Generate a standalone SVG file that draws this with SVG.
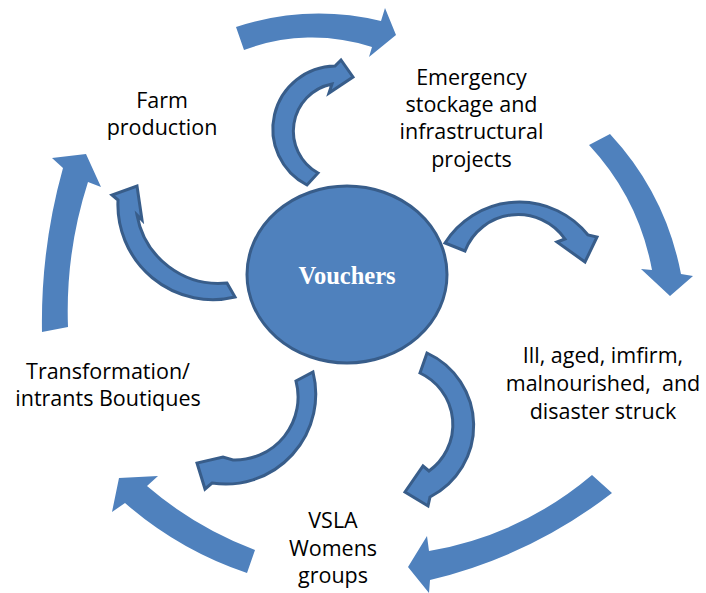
<svg xmlns="http://www.w3.org/2000/svg" width="706" height="593" viewBox="0 0 706 593">
  <style>
    .outer { fill: #4F81BD; stroke: none; }
    .inner { fill: #4F81BD; stroke: #385D8A; stroke-width: 3; stroke-linejoin: miter; }
    .hub { fill: #4F81BD; stroke: #385D8A; stroke-width: 3; }
    .lbl { font-family: "Open Sans", "Liberation Sans", sans-serif; font-size: 21.5px; fill: #000; text-anchor: middle; white-space: pre; }
    .hubtxt { font-family: "Liberation Serif", "Times New Roman", serif; font-size: 24.5px; font-weight: bold; fill: #fff; text-anchor: middle; }
  </style>

  <!-- outer cycle of curved block arrows -->
  <g id="connectors">
    <path class="outer" d="M 236,27 A 268 268 0 0 1 381,21 L 385,8 L 396,35 L 369,57 L 372,47 A 192 192 0 0 0 244,50 Z"/>
    <path class="outer" d="M 589,145 A 250 250 0 0 1 652,270 L 641,269 L 670,296 L 693,276 L 681,274 A 285 285 0 0 0 610,134 Z"/>
    <path class="outer" d="M 592,475 A 343 343 0 0 1 429,551 L 427,536 L 408,567 L 429,593 L 430,580 A 480 480 0 0 0 612,493 Z"/>
    <path class="outer" d="M 255,550 A 360 360 0 0 1 147,486 L 158,476 L 119,478 L 112,512 L 125,503 A 360 360 0 0 0 247,573 Z"/>
    <path class="outer" d="M 42,332 A 572 572 0 0 1 63,168 L 52,158 L 86,154 L 101,187 L 88,182 A 422 422 0 0 0 68,327 Z"/>

    <!-- arrows leaving the hub -->
    <path class="inner" d="M 307,185 A 63 63 0 0 1 335,66 L 341,60 L 353,77 L 329,93 L 332,84 A 48 48 0 0 0 318,173 Z"/>
    <path class="inner" d="M 445,243 A 88 88 0 0 1 588,235 L 597,237 L 585,262 L 557,242 L 565,239 A 57 57 0 0 0 465,251 Z"/>
    <path class="inner" d="M 427,353 A 80 80 0 0 1 430,497 L 428,506 L 405,492 L 423,466 L 429,471 A 57 57 0 0 0 420,373 Z"/>
    <path class="inner" d="M 313,372 A 90 90 0 0 1 212,483 L 205,489 L 197,463 L 223,457 L 233,460 A 63 63 0 0 0 296,381 Z"/>
    <path class="inner" d="M 235,297 A 95 95 0 0 1 118,200 L 112,195 L 137,186 L 142,220 L 137,215 A 83 83 0 0 0 227,283 Z"/>
  </g>

  <g id="vouchers">
    <ellipse class="hub" cx="347" cy="274.5" rx="100" ry="88.5"/>
    <text class="hubtxt" x="347" y="284">Vouchers</text>
  </g>

  <g id="farm-production">
    <text class="lbl" x="162" y="108">Farm</text>
    <text class="lbl" x="162" y="135">production</text>
  </g>

  <g id="emergency-stockage">
    <text class="lbl" x="471.5" y="85">Emergency</text>
    <text class="lbl" x="471.5" y="112">stockage and</text>
    <text class="lbl" x="471.5" y="139">infrastructural</text>
    <text class="lbl" x="471.5" y="166.5">projects</text>
  </g>

  <g id="vulnerable-groups">
    <text class="lbl" x="603" y="363">Ill, aged, imfirm,</text>
    <text class="lbl" x="603" y="391">malnourished,  and</text>
    <text class="lbl" x="603" y="419">disaster struck</text>
  </g>

  <g id="vsla-womens-groups">
    <text class="lbl" x="333" y="528">VSLA</text>
    <text class="lbl" x="333" y="555.5">Womens</text>
    <text class="lbl" x="333" y="583">groups</text>
  </g>

  <g id="transformation-boutiques">
    <text class="lbl" x="108" y="378.5">Transformation/</text>
    <text class="lbl" x="108" y="406">intrants Boutiques</text>
  </g>
</svg>
